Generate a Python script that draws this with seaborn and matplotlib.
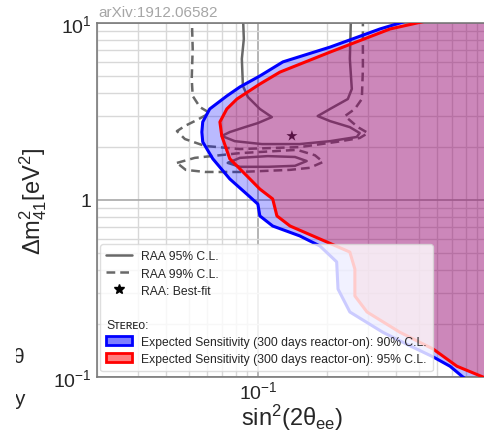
import matplotlib
matplotlib.use("Agg")
import matplotlib.pyplot as plt
import matplotlib.transforms as mtransforms
from matplotlib.lines import Line2D
from matplotlib.patches import Patch
from matplotlib.ticker import LogLocator, NullFormatter
import seaborn as sns

# Stereo expected sensitivity (300 days reactor-on), 90% C.L.
blue_sin2 = [0.553, 0.414, 0.339, 0.206, 0.1285, 0.102, 0.0835, 0.0733, 0.0618, 0.0576,
             0.0571, 0.0576, 0.0637, 0.0755, 0.0914, 0.100, 0.102, 0.116, 0.152, 0.186,
             0.220, 0.223, 0.251, 0.349, 0.458, 0.577, 0.684, 0.778, 0.887]
blue_dm2 = [11.2, 10.0, 9.25, 7.31, 6.03, 5.02, 4.35, 3.87, 3.27, 2.76,
            2.42, 2.13, 1.71, 1.315, 1.054, 0.948, 0.813, 0.713, 0.627, 0.550,
            0.447, 0.314, 0.233, 0.179, 0.150, 0.130, 0.115, 0.100, 0.089]

# Stereo expected sensitivity (300 days reactor-on), 95% C.L.
red_sin2 = [0.733, 0.491, 0.375, 0.206, 0.1247, 0.102, 0.0811, 0.0733, 0.0684, 0.0697,
            0.0755, 0.0895, 0.102, 0.116, 0.121, 0.138, 0.1995, 0.251, 0.264, 0.264,
            0.298, 0.414, 0.577, 0.733, 0.951, 1.07]
red_dm2 = [11.2, 10.0, 9.25, 6.85, 5.28, 4.52, 3.72, 3.27, 2.76, 2.30,
           1.71, 1.37, 1.153, 1.014, 0.813, 0.713, 0.579, 0.508, 0.407, 0.287,
           0.233, 0.179, 0.144, 0.115, 0.100, 0.090]

# RAA 95% C.L. contour (upper region, open at the top) and lower island
raa95_sin2 = [0.0861, 0.0869, 0.0852, 0.0861, 0.0905, 0.102, 0.115, 0.100, 0.0878, 0.0755,
              0.0697, 0.0794, 0.104, 0.152, 0.206, 0.269, 0.277, 0.251, 0.206, 0.182,
              0.206, 0.246, 0.256, 0.251, 0.254]
raa95_dm2 = [11.2, 8.13, 6.27, 4.41, 3.82, 3.27, 2.94, 2.72, 2.58, 2.42,
             2.30, 2.15, 2.07, 2.07, 2.15, 2.27, 2.39, 2.58, 2.79, 2.98,
             3.27, 3.72, 4.24, 6.27, 11.2]
raa95_island_sin2 = [0.0741, 0.0835, 0.1105, 0.145, 0.163, 0.145, 0.1105, 0.0835, 0.0741]
raa95_island_dm2 = [1.62, 1.73, 1.77, 1.75, 1.66, 1.56, 1.54, 1.54, 1.62]

# RAA 99% C.L. contour (upper region, open at the top) and lower island
raa99_sin2 = [0.0516, 0.0521, 0.0516, 0.0521, 0.0560, 0.0618, 0.0543, 0.0482, 0.0445, 0.0482,
              0.0589, 0.0835, 0.152, 0.220, 0.277, 0.301, 0.272, 0.239, 0.264, 0.283,
              0.286, 0.286]
raa99_dm2 = [11.2, 7.13, 4.83, 3.87, 3.35, 3.10, 2.83, 2.62, 2.45, 2.21,
             2.02, 1.94, 1.99, 2.13, 2.24, 2.39, 2.58, 2.98, 3.27, 3.72,
             5.49, 11.2]
raa99_island_sin2 = [0.0445, 0.0532, 0.0835, 0.148, 0.177, 0.192, 0.168, 0.138, 0.0835, 0.0589,
                     0.0486, 0.0445]
raa99_island_dm2 = [1.62, 1.73, 1.84, 1.92, 1.79, 1.64, 1.52, 1.48, 1.44, 1.44,
                    1.48, 1.62]

# RAA best fit
best_sin2 = [0.1406]
best_dm2 = [2.30]

sns.set_style("white")
plt.rcParams['font.family'] = ['Liberation Sans', 'DejaVu Sans']
plt.rcParams['mathtext.fontset'] = 'custom'
plt.rcParams['mathtext.rm'] = 'Liberation Sans'
plt.rcParams['mathtext.it'] = 'Liberation Sans:italic'

fig = plt.figure(figsize=(4.85, 4.35), dpi=100)
ax = fig.add_axes([97 / 485, 57 / 435, 391 / 485, 354 / 435])
ax.set_xscale('log')
ax.set_yscale('log')

raa_col = '#686868'
# RAA contours (under the sensitivity fills)
sns.lineplot(x=raa95_sin2, y=raa95_dm2, sort=False, estimator=None, color=raa_col,
             lw=1.8, ax=ax, zorder=1.5, legend=False)
sns.lineplot(x=raa95_island_sin2, y=raa95_island_dm2, sort=False, estimator=None, color=raa_col,
             lw=1.8, ax=ax, zorder=1.5, legend=False)
sns.lineplot(x=raa99_sin2, y=raa99_dm2, sort=False, estimator=None, color=raa_col,
             lw=1.8, ls=(0, (3.5, 2)), ax=ax, zorder=1.5, legend=False)
sns.lineplot(x=raa99_island_sin2, y=raa99_island_dm2, sort=False, estimator=None, color=raa_col,
             lw=1.8, ls=(0, (3.5, 2)), ax=ax, zorder=1.5, legend=False)
sns.scatterplot(x=best_sin2, y=best_dm2, marker='*', color='#222222', s=70, ax=ax,
                zorder=1.6, legend=False, edgecolor='none')

# sensitivity regions
ax.fill_betweenx(blue_dm2, blue_sin2, 10, color='blue', alpha=0.27, lw=0, zorder=2)
ax.fill_betweenx(red_dm2, red_sin2, 10, color='red', alpha=0.27, lw=0, zorder=2.1)
sns.lineplot(x=blue_sin2, y=blue_dm2, sort=False, estimator=None, color='blue',
             lw=2.2, ax=ax, zorder=3, legend=False)
sns.lineplot(x=red_sin2, y=red_dm2, sort=False, estimator=None, color='red',
             lw=2.2, ax=ax, zorder=3.1, legend=False)

ax.set_xlim(0.02, 1.0)
ax.set_ylim(0.1, 10)

ax.xaxis.set_minor_locator(LogLocator(base=10, subs=range(2, 10)))
ax.yaxis.set_minor_locator(LogLocator(base=10, subs=range(2, 10)))
ax.xaxis.set_minor_formatter(NullFormatter())
ax.yaxis.set_minor_formatter(NullFormatter())
ax.set_xticks([0.1])
ax.set_xticklabels([r'$\mathdefault{10^{-1}}$'])
ax.set_yticks([0.1, 1, 10])
ax.set_yticklabels([r'$\mathdefault{10^{-1}}$', '1', r'$\mathdefault{10^{1}}$'])
ax.tick_params(which='both', length=0, labelsize=14, pad=4)
ax.tick_params(axis='x', pad=2)

ax.set_axisbelow(True)
ax.grid(which='major', color='#a8a8a8', lw=1.2)
ax.grid(which='minor', color='#d8d8d8', lw=1.0)
for s in ax.spines.values():
    s.set_color('#7a7a7a')
    s.set_linewidth(1.2)
ax.spines['right'].set_visible(False)

ax.set_xlabel(r'$\mathregular{sin^2(2θ_{ee})}$', fontsize=17, labelpad=0)
ax.set_ylabel(r'$\mathregular{Δm^2_{41}[eV^2]}$', fontsize=17, labelpad=3)

fig.text(98 / 485, 1 - 13 / 435, 'arXiv:1912.06582', color='#a6a6a6', fontsize=11,
         va='center', ha='left')

# legend
handles = [
    Line2D([], [], color=raa_col, lw=1.8),
    Line2D([], [], color=raa_col, lw=1.8, ls=(0, (3.5, 2))),
    Line2D([], [], color='black', marker='*', ls='none', ms=7),
    Line2D([], [], ls='none'),
    Line2D([], [], ls='none'),
    Patch(facecolor=(0, 0, 1, 0.5), edgecolor='blue', lw=2),
    Patch(facecolor=(1, 0, 0, 0.5), edgecolor='red', lw=2),
]
labels = [
    'RAA 95% C.L.',
    'RAA 99% C.L.',
    'RAA: Best-fit',
    ' ',
    'Sᴛᴇʀᴇᴏ:',
    'Expected Sensitivity (300 days reactor-on): 90% C.L.',
    'Expected Sensitivity (300 days reactor-on): 95% C.L.',
]
leg = ax.legend(handles, labels, loc='lower left', bbox_to_anchor=(0.008, 0.017),
                borderaxespad=0, fontsize=8.7, framealpha=0.8, edgecolor='#d6d6d6',
                handlelength=2.1, handletextpad=0.8, labelspacing=0.42, borderpad=0.5)
leg.set_zorder(5)
stereo = leg.get_texts()[4]
stereo.set_transform(stereo.get_transform() +
                     mtransforms.ScaledTranslation(-0.35, 0, fig.dpi_scale_trans))

# bits of the neighbouring panel cut by the crop
clip = mtransforms.TransformedBbox(mtransforms.Bbox([[16 / 485, 0], [1, 1]]), fig.transFigure)
for txt, yy in [('θ', 358), ('y', 400)]:
    t = fig.text(25 / 485, 1 - yy / 435, txt, fontsize=15, ha='right', va='center')
    t.set_clip_box(clip)
    t.set_clip_on(True)

fig.savefig('out.png', dpi=100)
